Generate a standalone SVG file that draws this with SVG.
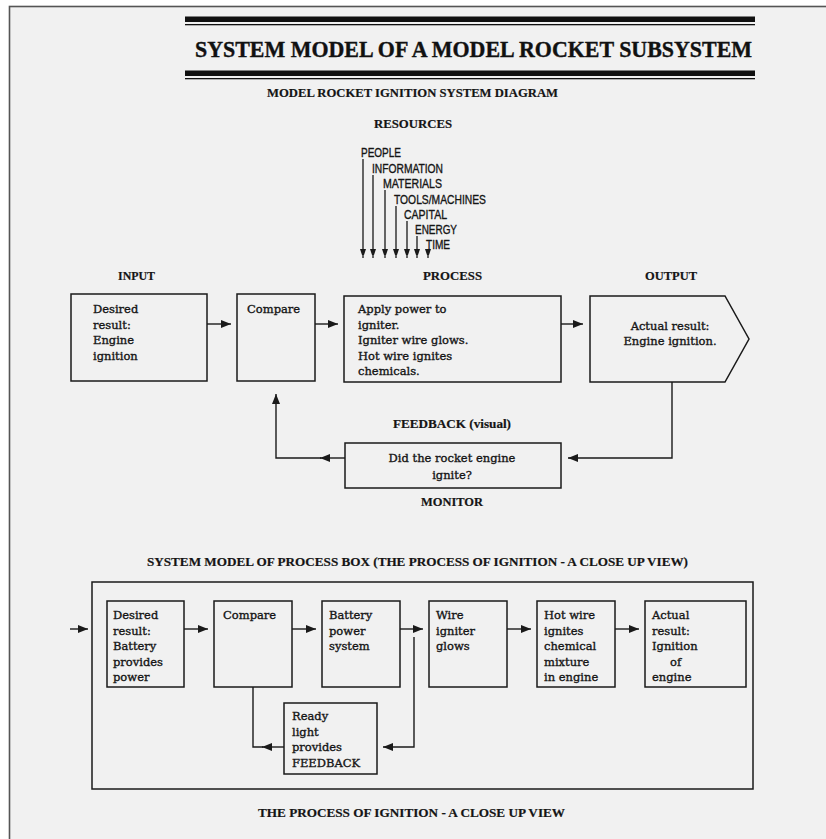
<svg xmlns="http://www.w3.org/2000/svg" width="826" height="839" viewBox="0 0 826 839">
<defs>
<style>
.box{fill:none;stroke:#1a1a1a;stroke-width:1.5}
.ln{fill:none;stroke:#1a1a1a;stroke-width:1.4}
.rl{fill:none;stroke:#1a1a1a;stroke-width:1.3}
.t{font-family:"DejaVu Serif","Liberation Serif",serif;font-size:11.5px;fill:#151515;stroke:#151515;stroke-width:0.35}
.h{font-family:"Liberation Serif",serif;font-weight:bold;font-size:13px;fill:#151515;stroke:#151515;stroke-width:0.2}
.r{font-family:"Liberation Sans",Arial,sans-serif;font-size:12.5px;fill:#151515;stroke:#151515;stroke-width:0.35}
</style>
<marker id="ah" markerUnits="userSpaceOnUse" markerWidth="10" markerHeight="8" refX="10" refY="4" orient="auto">
<path d="M0,0 L10,4 L0,8 z" fill="#1a1a1a"/>
</marker>
<marker id="ahs" markerUnits="userSpaceOnUse" markerWidth="6" markerHeight="9" refX="9" refY="3" orient="auto">
<path d="M0,0 L9,3 L0,6 z" fill="#1a1a1a"/>
</marker>
</defs>
<rect x="0" y="0" width="826" height="839" fill="#ffffff"/>
<rect x="9.5" y="6.5" width="830" height="850" fill="#f1f1f1" stroke="#555555" stroke-width="1.6"/>

<g id="title">
<rect x="185" y="16.5" width="570" height="5.5" fill="#111"/>
<rect x="185" y="24" width="570" height="1.3" fill="#111"/>
<text x="195" y="56.5" font-family="Liberation Serif,serif" font-weight="bold" font-size="24" fill="#111" stroke="#111" stroke-width="0.4" textLength="557" lengthAdjust="spacingAndGlyphs">SYSTEM MODEL OF A MODEL ROCKET SUBSYSTEM</text>
<rect x="185" y="70.5" width="570" height="5.5" fill="#111"/>
<rect x="185" y="78" width="570" height="1.3" fill="#111"/>
<text class="h" x="267" y="97" textLength="291" lengthAdjust="spacingAndGlyphs">MODEL ROCKET IGNITION SYSTEM DIAGRAM</text>
</g>

<g id="resources">
<text class="h" x="374" y="128" textLength="78" lengthAdjust="spacingAndGlyphs">RESOURCES</text>
<text class="r" x="361" y="157" textLength="40" lengthAdjust="spacingAndGlyphs">PEOPLE</text>
<text class="r" x="372" y="173" textLength="71" lengthAdjust="spacingAndGlyphs">INFORMATION</text>
<text class="r" x="383" y="188" textLength="59" lengthAdjust="spacingAndGlyphs">MATERIALS</text>
<text class="r" x="394" y="204" textLength="92" lengthAdjust="spacingAndGlyphs">TOOLS/MACHINES</text>
<text class="r" x="404" y="219" textLength="43" lengthAdjust="spacingAndGlyphs">CAPITAL</text>
<text class="r" x="415" y="234" textLength="42" lengthAdjust="spacingAndGlyphs">ENERGY</text>
<text class="r" x="426" y="249" textLength="24" lengthAdjust="spacingAndGlyphs">TIME</text>
</g>

<g id="labels">
<text class="h" x="118" y="280" textLength="37" lengthAdjust="spacingAndGlyphs">INPUT</text>
<text class="h" x="423" y="280" textLength="59" lengthAdjust="spacingAndGlyphs">PROCESS</text>
<text class="h" x="645" y="280" textLength="52" lengthAdjust="spacingAndGlyphs">OUTPUT</text>
<text class="h" x="393" y="428" textLength="118" lengthAdjust="spacingAndGlyphs">FEEDBACK (visual)</text>
<text class="h" x="421" y="506" textLength="62" lengthAdjust="spacingAndGlyphs">MONITOR</text>
<text class="h" x="147" y="566" textLength="541" lengthAdjust="spacingAndGlyphs">SYSTEM MODEL OF PROCESS BOX (THE PROCESS OF IGNITION - A CLOSE UP VIEW)</text>
<text class="h" x="258" y="817" textLength="307" lengthAdjust="spacingAndGlyphs">THE PROCESS OF IGNITION - A CLOSE UP VIEW</text>
</g>

<g id="input">
<rect class="box" x="71" y="294" width="136" height="87"/>
<text class="t" x="93" y="313">Desired</text>
<text class="t" x="93" y="328.5">result:</text>
<text class="t" x="93" y="344">Engine</text>
<text class="t" x="93" y="359.5">ignition</text>
</g>

<g id="compare">
<rect class="box" x="237" y="294" width="78" height="87"/>
<text class="t" x="247" y="313">Compare</text>
</g>

<g id="process">
<rect class="box" x="344" y="296" width="217" height="86"/>
<text class="t" x="358" y="313">Apply power to</text>
<text class="t" x="358" y="328.5">igniter.</text>
<text class="t" x="358" y="344">Igniter wire glows.</text>
<text class="t" x="358" y="359.5">Hot wire ignites</text>
<text class="t" x="358" y="375">chemicals.</text>
</g>

<g id="output">
<polygon class="box" points="590,296 725,296 749,339 725,382 590,382"/>
<text class="t" x="670" y="330" text-anchor="middle">Actual result:</text>
<text class="t" x="670" y="345" text-anchor="middle">Engine ignition.</text>
</g>

<g id="monitor">
<rect class="box" x="345" y="443" width="216" height="45"/>
<text class="t" x="452" y="462" text-anchor="middle">Did the rocket engine</text>
<text class="t" x="452" y="479" text-anchor="middle">ignite?</text>
</g>

<g id="closeup-frame">
<rect class="box" x="92" y="582" width="661" height="207"/>
</g>

<g id="b1">
<rect class="box" x="107" y="601" width="77" height="86"/>
<text class="t" x="113" y="619">Desired</text>
<text class="t" x="113" y="634.5">result:</text>
<text class="t" x="113" y="650">Battery</text>
<text class="t" x="113" y="665.5">provides</text>
<text class="t" x="113" y="681">power</text>
</g>
<g id="b2">
<rect class="box" x="214" y="601" width="78" height="86"/>
<text class="t" x="223" y="619">Compare</text>
</g>
<g id="b3">
<rect class="box" x="322" y="601" width="78" height="86"/>
<text class="t" x="329" y="619">Battery</text>
<text class="t" x="329" y="634.5">power</text>
<text class="t" x="329" y="650">system</text>
</g>
<g id="b4">
<rect class="box" x="429" y="601" width="78" height="86"/>
<text class="t" x="436" y="619">Wire</text>
<text class="t" x="436" y="634.5">igniter</text>
<text class="t" x="436" y="650">glows</text>
</g>
<g id="b5">
<rect class="box" x="537" y="601" width="78" height="86"/>
<text class="t" x="544" y="619">Hot wire</text>
<text class="t" x="544" y="634.5">ignites</text>
<text class="t" x="544" y="650">chemical</text>
<text class="t" x="544" y="665.5">mixture</text>
<text class="t" x="544" y="681">in engine</text>
</g>
<g id="b6">
<rect class="box" x="645" y="601" width="101" height="86"/>
<text class="t" x="652" y="619">Actual</text>
<text class="t" x="652" y="634.5">result:</text>
<text class="t" x="652" y="650">Ignition</text>
<text class="t" x="670" y="665.5">of</text>
<text class="t" x="652" y="681">engine</text>
</g>
<g id="ready">
<rect class="box" x="284" y="703" width="93" height="71"/>
<text class="t" x="292" y="720">Ready</text>
<text class="t" x="292" y="735.5">light</text>
<text class="t" x="292" y="751">provides</text>
<text class="t" x="292" y="766.5">FEEDBACK</text>
</g>

<g id="connectors">
<path class="rl" d="M363,159 V258" marker-end="url(#ahs)"/>
<path class="rl" d="M373,175 V258" marker-end="url(#ahs)"/>
<path class="rl" d="M385,190 V258" marker-end="url(#ahs)"/>
<path class="rl" d="M396,206 V258" marker-end="url(#ahs)"/>
<path class="rl" d="M407,221 V258" marker-end="url(#ahs)"/>
<path class="rl" d="M417,236 V258" marker-end="url(#ahs)"/>
<path class="rl" d="M428,251 V258" marker-end="url(#ahs)"/>

<path class="ln" d="M207,324 H231" marker-end="url(#ah)"/>
<path class="ln" d="M315,324 H338" marker-end="url(#ah)"/>
<path class="ln" d="M561,324 H583" marker-end="url(#ah)"/>
<path class="ln" d="M672,382 V458 H568" marker-end="url(#ah)"/>
<path class="ln" d="M345,458 H320" marker-end="url(#ah)"/>
<path class="ln" d="M321,458 H276 V394" marker-end="url(#ah)"/>

<path class="ln" d="M70,629 H88" marker-end="url(#ah)"/>
<path class="ln" d="M184,629 H208" marker-end="url(#ah)"/>
<path class="ln" d="M292,629 H316" marker-end="url(#ah)"/>
<path class="ln" d="M400,629 H423" marker-end="url(#ah)"/>
<path class="ln" d="M507,629 H531" marker-end="url(#ah)"/>
<path class="ln" d="M615,629 H639" marker-end="url(#ah)"/>
<path class="ln" d="M284,747 H262" marker-end="url(#ah)"/>
<path class="ln" d="M263,747 H253 V687"/>
<path class="ln" d="M414,637 V747 H383" marker-end="url(#ah)"/>
</g>
</svg>
